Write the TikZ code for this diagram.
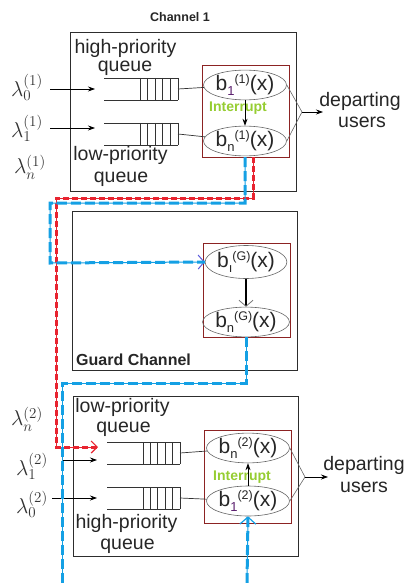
\RequirePackage{fix-cm}
\documentclass[tikz,border=0pt]{standalone}
\usepackage{fontspec}
\setmainfont{Liberation Sans}
\usetikzlibrary{arrows.meta,shapes.geometric,calc}
\definecolor{cred}{RGB}{232,36,48}
\definecolor{cblue}{RGB}{20,160,228}
\definecolor{dred}{RGB}{140,35,35}
\definecolor{igreen}{RGB}{150,205,50}
\definecolor{boxgray}{RGB}{45,45,45}
\definecolor{subpurple}{RGB}{90,30,110}
\definecolor{arrpurple}{RGB}{90,90,220}
\newcommand\bexpr[3]{b\raisebox{-5pt}{\fontsize{13}{13}\selectfont\color{#3}#1}\raisebox{7pt}{\fontsize{12.5}{12.5}\selectfont (#2)}(x)}
\tikzset{
  chbox/.style={draw=boxgray, line width=0.9pt, anchor=north west, inner sep=0pt},
  redbox/.style={draw=dred, line width=0.8pt, anchor=north west, inner sep=0pt},
  ell/.style={ellipse, draw=black!60, line width=0.6pt, minimum width=77pt, minimum height=29pt, inner sep=0pt, font=\fontsize{21}{21}\selectfont, text=black!85},
  lbl/.style={font=\fontsize{19.5}{19.5}\selectfont, text=black!85, inner sep=0pt},
  lam/.style={font=\fontsize{21.5}{21.5}\selectfont, text=black!80, inner sep=0pt},
  intr/.style={font=\bfseries\fontsize{14}{14}\selectfont, text=igreen, inner sep=0pt},
  arr/.style={-{Stealth[length=7pt,width=5pt]}, line width=0.7pt},
  qline/.style={line width=0.7pt, black!80},
  dep/.style={line width=0.6pt, black!60},
  bluedash/.style={draw=cblue, line width=1pt, postaction={draw=cblue, line width=3pt, dash pattern=on 10pt off 4pt, arrows=-}},
  reddash/.style={draw=cred, line width=1pt, postaction={draw=cred, line width=3pt, dash pattern=on 6pt off 3pt, arrows=-}},
}
\begin{document}
\begin{tikzpicture}[x=1pt,y=-1pt]
\useasboundingbox (0,0) rectangle (404,583);
% ---------------- Channel 1 ----------------
\node[font=\bfseries\fontsize{12.5}{12.5}\selectfont, text=black!85] (c1lab) at (180,17) {Channel 1};
\node[chbox, minimum width=226pt, minimum height=159pt] (ch1) at (70,32) {};
\node[redbox, minimum width=87pt, minimum height=92pt] (rb1) at (202,65) {};
\node[lbl] (hp1) at (125.5,48) {high-priority};
\node[lbl] (hq1) at (125,68) {queue};
\node[lbl] (lp1) at (120.5,155) {low-priority};
\node[lbl] (lq1) at (121,179) {queue};
% queues
\draw[qline] (104,78) -- (178,78) (104,100) -- (178,100);
\foreach \x in {140,147.6,155.2,162.8,170.4,178} \draw[qline] (\x,78) -- (\x,100);
\draw[qline] (104,123) -- (178,123) (104,145) -- (178,145);
\foreach \x in {140,147.6,155.2,162.8,170.4,178} \draw[qline] (\x,123) -- (\x,145);
\coordinate (q1a) at (178,89);
\coordinate (q1b) at (178,134);
\node[ell] (b11) at (245,85) {\bexpr{1}{1}{subpurple}};
\node[ell] (bn1) at (245,141) {\bexpr{n}{1}{black!85}};
\node[intr] (int1) at (238,108) {Interrupt};
\draw[qline] (q1a) -- (b11);
\draw[qline] (q1b) -- (bn1);
\draw[arr, line width=0.8pt] (b11.south) -- (bn1.north);
% arrivals
\node[lam] (l01) at (27,87) {$\lambda_0^{(1)}$};
\node[lam] (l11) at (27,128) {$\lambda_1^{(1)}$};
\node[lam] (ln1) at (30,167) {$\lambda_n^{(1)}$};
\coordinate (a01) at (95,89);
\coordinate (a11) at (95,128);
\coordinate (s01) at (50,89);
\coordinate (s11) at (50,128);
\draw[arr] (s01) -- (a01);
\draw[arr] (s11) -- (a11);
% departing
\coordinate (m1) at (302,112);
\coordinate (d1) at (323,112);
\draw[dep] (b11.east) -- (m1) -- (bn1.east);
\draw[arr] (m1) -- (d1);
\node[lbl] (dp1) at (360,101) {departing};
\node[lbl] (us1) at (362,122) {users};
% ---------------- Guard channel ----------------
\node[chbox, minimum width=225pt, minimum height=159pt] (chg) at (72,211) {};
\node[redbox, minimum width=87pt, minimum height=94pt] (rbg) at (203,243) {};
\node[ell, minimum height=33pt] (bg1) at (246,262) {\bexpr{ı}{G}{black!85}};
\node[ell] (bg2) at (246,322) {\bexpr{n}{G}{black!85}};
\draw[line width=2pt, -{Straight Barb[length=6pt,width=14pt,line width=0.8pt,color=black!55]}] (bg1.south) -- (bg2.north);
\node[font=\bfseries\fontsize{16}{16}\selectfont, text=black!85, anchor=west, inner sep=0pt] (gclab) at (76,360) {Guard Channel};
% ---------------- Channel 2 ----------------
\node[chbox, minimum width=225pt, minimum height=160pt] (ch2) at (73,396) {};
\node[redbox, minimum width=87pt, minimum height=93pt] (rb2) at (204,430) {};
\node[lbl] (lp2) at (122.5,407) {low-priority};
\node[lbl] (lq2) at (123.5,429) {queue};
\node[lbl] (hp2) at (126.5,523) {high-priority};
\node[lbl] (hq2) at (127.5,546) {queue};
\draw[qline] (107,442) -- (180,442) (107,464) -- (180,464);
\foreach \x in {143,150.4,157.8,165.2,172.6,180} \draw[qline] (\x,442) -- (\x,464);
\draw[qline] (107,487) -- (180,487) (107,509) -- (180,509);
\foreach \x in {143,150.4,157.8,165.2,172.6,180} \draw[qline] (\x,487) -- (\x,509);
\coordinate (q2a) at (180,453);
\coordinate (q2b) at (180,498);
\node[ell, minimum width=78pt, minimum height=28pt] (bn2) at (248,448) {\bexpr{n}{2}{black!85}};
\node[ell, minimum width=78pt, minimum height=30pt] (b12) at (248,501) {\bexpr{1}{2}{subpurple}};
\node[intr] (int2) at (242,477) {Interrupt};
\draw[qline] (q2a) -- (bn2);
\draw[qline] (q2b) -- (b12);
\draw[arr, line width=0.8pt] (b12.north) -- (bn2.south);
\node[lam] (ln2) at (27,419) {$\lambda_n^{(2)}$};
\node[lam] (l12) at (32,466) {$\lambda_1^{(2)}$};
\node[lam] (l02) at (32,504) {$\lambda_0^{(2)}$};
\coordinate (a12) at (97,460);
\coordinate (a02) at (97,498);
\coordinate (s12) at (62,460);
\coordinate (s02) at (52,498);
\draw[arr] (s12) -- (a12);
\draw[arr] (s02) -- (a02);
\coordinate (m2) at (305,477);
\coordinate (d2) at (328,477);
\draw[dep] (bn2.east) -- (m2) -- (b12.east);
\draw[arr] (m2) -- (d2);
\node[lbl] (dp2) at (364,465) {departing};
\node[lbl] (us2) at (364,487) {users};
% ---------------- dashed handover paths ----------------
\coordinate (r0) at ($(bn1.south)+(8,1)$);
\coordinate (ra) at (56,447);
\coordinate (rend) at (98,447);
\draw[reddash, -{Straight Barb[length=6pt,width=12pt,line width=1.2pt]}] (r0) -- (253,198) -- (56,198) -- (ra) -- (rend);
\coordinate (bl0) at ($(bn1.south)+(0,1)$);
\draw[bluedash, -{Straight Barb[length=6pt,width=14pt,line width=1pt,color=arrpurple]}] (bl0) -- (245,203) -- (50,203) -- (50,263) -- (bg1.west);
\coordinate (bot1) at (62,583);
\draw[bluedash] (bg2.south) -- (246,383) -- (62,383) -- (bot1);
\coordinate (bot2) at (247,583);
\draw[bluedash, -{Straight Barb[length=7pt,width=16pt,line width=1.2pt]}] (bot2) -- (b12.south);
\end{tikzpicture}
\end{document}
